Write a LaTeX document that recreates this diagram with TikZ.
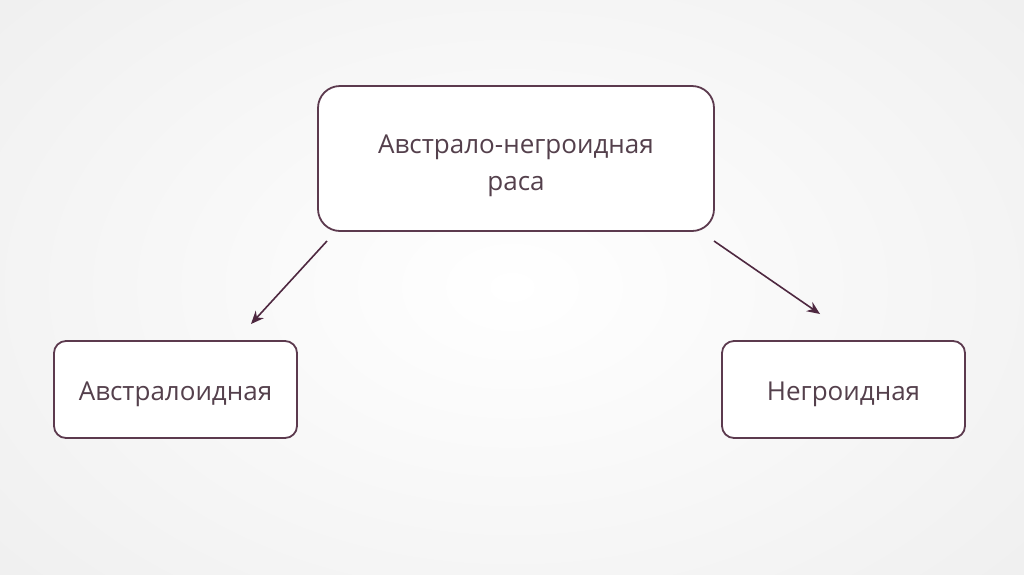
\documentclass[tikz,border=0pt]{standalone}
\usepackage{fontspec}
\setmainfont{Open Sans}
\usetikzlibrary{arrows.meta,shadings}
\definecolor{bord}{HTML}{5C3A4E}
\definecolor{arr}{HTML}{4E2840}
\definecolor{txt}{HTML}{54404C}
\definecolor{bgedge}{HTML}{F0F0F0}
\tikzset{
  box/.style={draw=bord, line width=1.8pt, fill=white, inner sep=0pt},
  lbl/.style={align=center, text=txt, font=\fontsize{26}{37}\selectfont, inner sep=0pt},
  conn/.style={draw=arr, line width=1.6pt, -{Stealth[length=13pt,width=11pt]}}
}
\begin{document}
\begin{tikzpicture}[x=1pt,y=-1pt]
\useasboundingbox (0,0) rectangle (1024,574);
\fill[bgedge] (0,0) rectangle (1024,574);
\shade[inner color=white, outer color=bgedge] (-150,-150) rectangle (1174,724);
\node[box, rounded corners=22pt, minimum width=396pt, minimum height=145pt] (top) at (516,158.5) {};
\node[box, rounded corners=12pt, minimum width=243pt, minimum height=97pt] (left) at (175.5,389.5) {};
\node[box, rounded corners=12pt, minimum width=243pt, minimum height=97pt] (right) at (843.5,389.5) {};
\node[lbl] (toptext) at ([yshift=-7pt]top.center) {Австрало-негроидная\\раса};
\node[lbl] (lefttext) at ([yshift=-5pt]left.center) {Австралоидная};
\node[lbl] (righttext) at ([yshift=-5pt]right.center) {Негроидная};
\coordinate (ls) at (327,241);
\coordinate (le) at (251,324);
\coordinate (rs) at (714,241);
\coordinate (re) at (820,314);
\draw[conn] (ls) -- (le);
\draw[conn] (rs) -- (re);
\end{tikzpicture}
\end{document}
